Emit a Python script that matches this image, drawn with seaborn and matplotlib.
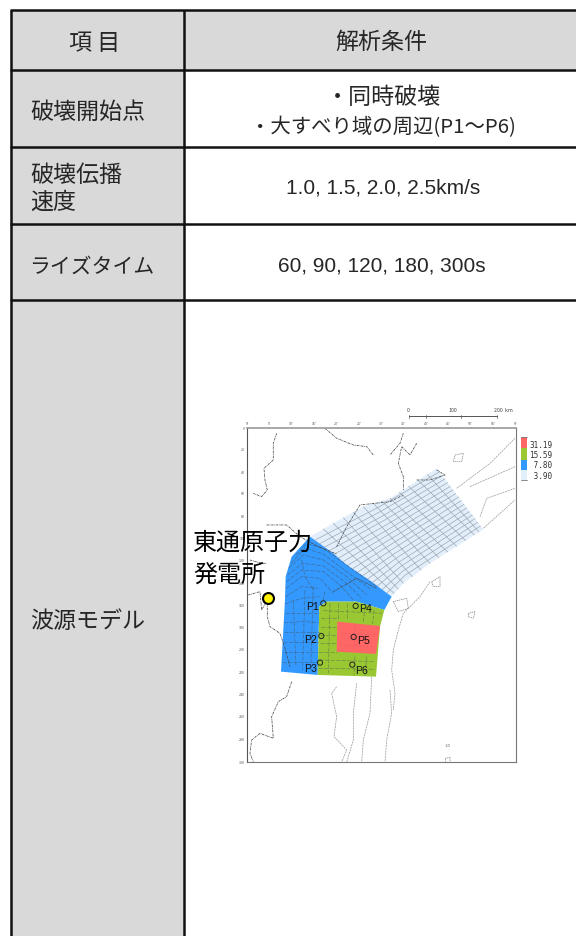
import numpy as np
import pandas as pd
import seaborn as sns
import matplotlib.pyplot as plt
from matplotlib.patches import Polygon, Rectangle

# table layout
col_edges = [10.5, 184, 576]
row_edges = [9.5, 70.3, 147, 223.7, 300.3, 936]
header_left = "項 目"
header_right = "解析条件"
start_label = "破壊開始点"
speed_lines = ["破壊伝播", "速度"]
rise_label = "ライズタイム"
source_label = "波源モデル"
start_lines = ["・同時破壊", "・大すべり域の周辺(P1～P6)"]
speed_values = "1.0, 1.5, 2.0, 2.5km/s"
rise_values = "60, 90, 120, 180, 300s"
plant_lines = ["東通原子力", "発電所"]

# slip zones, in map units
light_x = [360, 430, 520, 600, 740, 880, 720, 640, 605, 545, 470, 430]
light_y = [410, 370, 320, 295, 205, 388, 490, 550, 590, 545, 495, 460]
blue_x = [360, 430, 470, 545, 605, 583, 500, 410, 388, 383, 273, 285, 287, 305]
blue_y = [410, 460, 495, 545, 590, 630, 605, 605, 620, 825, 815, 600, 530, 470]
green_x = [410, 500, 583, 570, 558, 383, 388]
green_y = [605, 605, 630, 680, 830, 825, 620]
red_x = [442, 570, 558, 440]
red_y = [665, 678, 762, 755]

# fault mesh lines
strike_lines = [
    ([374, 565, 748], [421, 322, 216]),
    ([389, 571, 756], [431, 335, 227]),
    ([403, 576, 765], [442, 349, 237]),
    ([418, 581, 773], [452, 362, 248]),
    ([432, 587, 781], [463, 376, 259]),
    ([446, 592, 789], [474, 390, 270]),
    ([461, 597, 797], [484, 403, 281]),
    ([475, 602, 806], [495, 417, 291]),
    ([490, 608, 814], [505, 430, 302]),
    ([504, 613, 822], [516, 444, 313]),
    ([518, 618, 830], [527, 458, 324]),
    ([533, 624, 838], [537, 471, 335]),
    ([547, 629, 847], [548, 485, 345]),
    ([562, 634, 855], [558, 498, 356]),
    ([576, 640, 863], [569, 512, 367]),
    ([590, 645, 871], [580, 526, 378]),
]
dip_lines = [
    ([400, 612], [387, 580]),
    ([430, 625], [370, 567]),
    ([460, 640], [353, 550]),
    ([490, 667], [337, 530]),
    ([520, 693], [320, 510]),
    ([550, 720], [310, 490]),
    ([575, 747], [303, 473]),
    ([600, 773], [295, 456]),
    ([628, 800], [277, 439]),
    ([656, 827], [259, 422]),
    ([684, 853], [241, 405]),
    ([712, 867], [223, 396]),
]
blue_arcs = [
    ([318, 350, 400, 470, 560], [465, 430, 445, 495, 560]),
    ([303, 345, 400, 470, 545], [490, 445, 462, 515, 570]),
    ([296, 340, 400, 470, 530], [505, 465, 480, 530, 585]),
    ([292, 338, 400, 470, 515], [525, 490, 498, 550, 595]),
    ([290, 335, 400, 450, 490], [545, 510, 515, 555, 600]),
    ([288, 335, 390, 430], [565, 530, 535, 580]),
    ([286, 335, 385], [590, 560, 565]),
    ([285, 335, 388], [612, 595, 590]),
    ([284, 335, 388], [640, 640, 640]),
    ([282, 340, 386], [668, 665, 668]),
    ([281, 340, 386], [695, 695, 695]),
    ([279, 330, 385], [725, 725, 725]),
    ([278, 330, 385], [755, 755, 755]),
    ([276, 330, 384], [785, 785, 785]),
    ([310, 318], [600, 800]),
    ([345, 338], [570, 810]),
    ([370, 362], [560, 810]),
    ([405, 400], [575, 600]),
    ([335, 345, 370], [480, 530, 570]),
]
green_ticks = [
    ([400, 575], [632, 640]),
    ([392, 440], [655, 655]),
    ([392, 440], [680, 680]),
    ([390, 440], [705, 705]),
    ([390, 440], [730, 730]),
    ([388, 440], [755, 755]),
    ([388, 555], [780, 785]),
    ([386, 555], [805, 808]),
    ([420, 415], [610, 820]),
    ([445, 445], [610, 660]),
    ([470, 470], [610, 660]),
    ([495, 492], [770, 825]),
    ([525, 520], [620, 665]),
    ([530, 525], [770, 828]),
    ([552, 548], [630, 672]),
]
red_marks = [
    ([455, 565], [700, 705]),
    ([450, 555], [735, 740]),
    ([495, 495], [675, 755]),
]

# coast and bathymetry
coast_lines = [
    ([260, 250, 250, 222, 225, 232, 215, 190], [100, 130, 180, 205, 240, 270, 290, 280]),
    ([405, 440, 490, 530, 550], [85, 115, 135, 140, 165]),
    ([640, 630, 600], [100, 130, 165]),
    ([680, 660, 635, 625, 640, 640], [130, 165, 140, 190, 230, 270]),
    ([230, 290, 330, 385, 440], [375, 375, 410, 440, 462]),
    ([232, 232, 240, 270, 285, 300], [610, 650, 680, 700, 745, 800]),
    ([175, 210, 215, 232], [585, 575, 630, 600]),
    ([180, 215, 230], [480, 490, 490]),
    ([305, 290, 265, 245, 250, 210, 185, 180, 190], [845, 890, 905, 950, 1015, 1000, 1020, 1060, 1085]),
    ([440, 470, 510, 600, 640], [440, 380, 315, 305, 285]),
    ([430, 500, 560], [575, 535, 565]),
    ([680, 720, 765, 740], [240, 240, 225, 210]),
]
trench_lines = [
    ([880, 975], [385, 300]),
    ([800, 900, 975], [265, 190, 115]),
    ([840, 975], [260, 200]),
    ([870, 890, 975], [350, 295, 265]),
    ([720, 690, 640, 625, 610, 605, 615, 610], [545, 590, 640, 690, 750, 810, 880, 930]),
    ([440, 425, 440, 432, 470, 455], [860, 880, 950, 1010, 1050, 1087]),
    ([500, 490, 490, 470], [850, 940, 1020, 1087]),
    ([545, 540, 520, 515], [830, 940, 1020, 1087]),
    ([600, 605, 590, 585], [870, 940, 1020, 1087]),
]
contour_rings = [
    ([795, 820, 815, 790, 795], [165, 160, 185, 185, 165]),
    ([725, 750, 750, 730, 725], [545, 530, 560, 560, 545]),
    ([610, 650, 655, 625, 610], [605, 595, 625, 635, 605]),
    ([835, 855, 850, 835, 835], [640, 635, 655, 650, 640]),
    ([768, 778, 778, 768, 768], [1035, 1033, 1040, 1040, 1035]),
    ([766, 780, 780, 766, 766], [1075, 1072, 1087, 1087, 1075]),
]

point_names = ["P1", "P2", "P3", "P4", "P5", "P6"]
point_x = [400, 394, 390, 497, 491, 487]
point_y = [610, 708, 788, 618, 711, 794]
name_x = [367, 363, 362, 527, 521, 516]
name_y = [621, 720, 808, 628, 723, 814]

legend_labels = ["31.19", "15.59", " 7.80", " 3.90"]
legend_colors = ["#FF6666", "#99C833", "#3399FF", "#E3EEFB"]
legend_tops = [437, 448, 459.5, 470]
legend_heights = [11, 11.5, 10.5, 10]
legend_text_y = [445, 455.5, 466, 476.5]
map_xticks = [172, 238, 305, 373, 440, 507, 574, 640, 708, 774, 842, 910, 977]
map_yticks = [85, 150, 217, 282, 350, 415, 482, 550, 618, 684, 750, 818, 884, 951, 1018, 1087]
map_xlabels = ["5°", "5'", "10'", "15'", "20'", "25'", "30'", "35'", "40'", "45'", "50'", "55'", "6°"]
map_ylabels = ["0", "20", "40", "60", "80", "100", "120", "140", "160", "180", "200", "220", "240", "260", "280", "300"]
scale_x = [408.5, 426, 461, 497]
scale_labels = ["0", "100", "200  km"]
scale_label_x = [408.5, 453, 503]

sns.set_theme(style="white")
plt.rcParams["font.family"] = ["Noto Sans CJK JP", "DejaVu Sans"]

fig = plt.figure(figsize=(5.76, 9.36), dpi=100)
ax = fig.add_axes([0, 0, 1, 1])
ax.set_xlim(0, 576)
ax.set_ylim(936, 0)
ax.axis("off")

ax.add_patch(Rectangle((col_edges[0], row_edges[0]), col_edges[1] - col_edges[0], row_edges[-1] - row_edges[0], fc="#D9D9D9", ec="none"))
ax.add_patch(Rectangle((col_edges[1], row_edges[0]), col_edges[2] - col_edges[1], row_edges[1] - row_edges[0], fc="#D9D9D9", ec="none"))
for y in row_edges[:-1]:
    ax.plot([col_edges[0] - 1, col_edges[2]], [y, y], color="#111111", lw=1.8, solid_capstyle="butt")
for x in col_edges[:2]:
    ax.plot([x, x], [row_edges[0], row_edges[-1]], color="#111111", lw=1.8, solid_capstyle="butt")

big = 16.6
ax.text(95, 43, header_left, ha="center", va="center", fontsize=big)
ax.text(381.5, 42, header_right, ha="center", va="center", fontsize=big)
ax.text(30, 112, start_label, ha="left", va="center", fontsize=big)
ax.text(30, 175, speed_lines[0], ha="left", va="center", fontsize=big)
ax.text(30, 202, speed_lines[1], ha="left", va="center", fontsize=big)
ax.text(29, 267, rise_label, ha="left", va="center", fontsize=15)
ax.text(30, 622, source_label, ha="left", va="center", fontsize=big)
ax.text(383, 98, start_lines[0], ha="center", va="center", fontsize=big)
ax.text(383, 127, start_lines[1], ha="center", va="center", fontsize=14.7)
ax.text(383, 188.5, speed_values, ha="center", va="center", fontsize=15, family="Liberation Sans")
ax.text(382, 265.5, rise_values, ha="center", va="center", fontsize=15, family="Liberation Sans")

# map panel sits on the lower right cell, axes in map units
map_ax = fig.add_axes([247.3 / 576, 1 - 762.3 / 936, 268.4 / 576, 334 / 936])
map_ax.patch.set_alpha(0)
for name, side in map_ax.spines.items():
    side.set_color({"top": "#999999", "left": "#555555"}.get(name, "#777777"))
    side.set_linewidth(1.2 if name == "top" else 0.8)

for xs, ys, c in [(light_x, light_y, legend_colors[3]), (blue_x, blue_y, legend_colors[2]),
                  (green_x, green_y, legend_colors[1]), (red_x, red_y, legend_colors[0])]:
    map_ax.add_patch(Polygon(np.column_stack([xs, ys]), fc=c, ec="none", zorder=1))


def draw_lines(lines, color, lw, ls="-"):
    for xs, ys in lines:
        frame = pd.DataFrame({"x": xs, "y": ys})
        sns.lineplot(data=frame, x="x", y="y", sort=False, estimator=None, ax=map_ax,
                     color=color, lw=lw, ls=ls, zorder=2)


draw_lines(strike_lines, "#98A2AD", 0.45)
draw_lines(dip_lines, "#98A2AD", 0.45)
draw_lines(blue_arcs, "#3F6E9C", 0.5, (0, (6, 2)))
draw_lines(green_ticks, "#6E8A45", 0.5, (0, (6, 2)))
draw_lines(red_marks, "#C05050", 0.35, (0, (2, 6)))
draw_lines(coast_lines, "#444444", 0.55, (0, (3, 1, 1, 1)))
draw_lines(trench_lines, "#999999", 0.5, (0, (3, 1)))
draw_lines(contour_rings, "#777777", 0.45, (0, (2, 1)))

map_ax.set_xlabel("")
map_ax.set_ylabel("")
map_ax.set_xlim(172, 977)
map_ax.set_ylim(1087, 85)
map_ax.xaxis.tick_top()
map_ax.set_xticks(map_xticks)
map_ax.set_xticklabels(map_xlabels)
map_ax.set_yticks(map_yticks)
map_ax.set_yticklabels(map_ylabels)
map_ax.tick_params(labelsize=2.6, length=1, width=0.4, pad=0.6, colors="#555555")

sns.scatterplot(x=point_x, y=point_y, s=14, facecolor="none", edgecolor="#222222", linewidth=0.7, ax=map_ax, zorder=4)
for n, x, y in zip(point_names, name_x, name_y):
    map_ax.text(x, y, n, ha="center", va="center", fontsize=7.6, family="Liberation Sans", color="#111111", zorder=5)
map_ax.set_xlim(172, 977)
map_ax.set_ylim(1087, 85)

# plant marker, labels and legend go above the map
top_ax = fig.add_axes([0, 0, 1, 1])
top_ax.patch.set_alpha(0)
top_ax.text(193, 543, plant_lines[0], ha="left", va="center", fontsize=17.3, color="black")
top_ax.text(193, 575, plant_lines[1], ha="left", va="center", fontsize=17.3, color="black")
sns.scatterplot(x=[267.5], y=[597.7], s=62, color="#FFF200", edgecolor="black", linewidth=1.5, ax=top_ax, zorder=6)

# scale bar
top_ax.plot([scale_x[0], scale_x[-1]], [416.3, 416.3], color="#555555", lw=0.7)
for x in scale_x:
    top_ax.plot([x, x], [414.5, 418], color="#555555", lw=0.5)
for x, t in zip(scale_label_x, scale_labels):
    top_ax.text(x, 410, t, ha="center", va="center", fontsize=3.8, color="#444444")

# slip legend
for y, h, c, t, ty in zip(legend_tops, legend_heights, legend_colors, legend_labels, legend_text_y):
    top_ax.add_patch(Rectangle((521, y), 5.7, h, fc=c, ec="none"))
    top_ax.text(529, ty, t, ha="left", va="center", fontsize=5.5, family="DejaVu Sans Mono", color="#333333")
top_ax.plot([521, 526.7], [437, 437], color="#777777", lw=0.6)
top_ax.plot([521, 526.7], [480, 480], color="#777777", lw=0.6)

top_ax.set_xlim(0, 576)
top_ax.set_ylim(936, 0)
top_ax.axis("off")

fig.savefig("out.png", dpi=100)
